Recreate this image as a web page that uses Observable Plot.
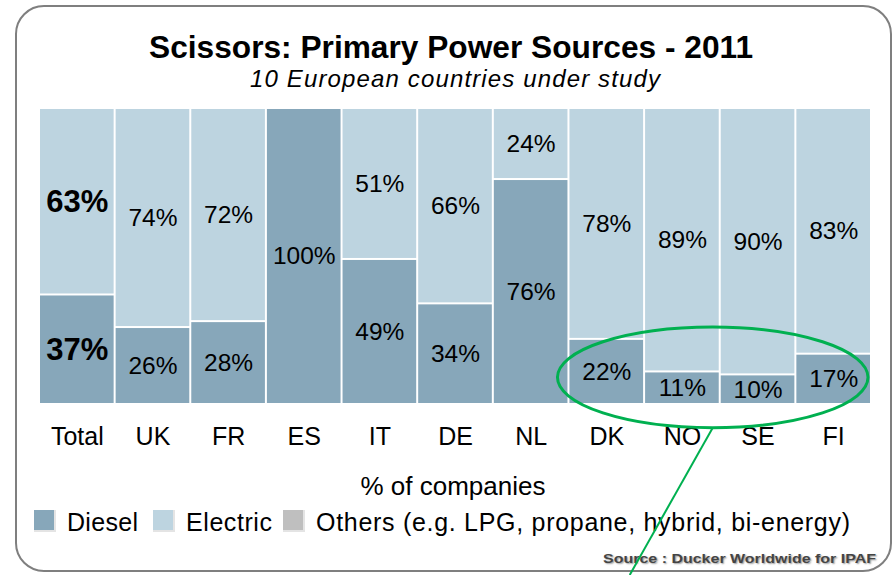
<!DOCTYPE html>
<html>
<head>
<meta charset="utf-8">
<script src="https://cdn.jsdelivr.net/npm/d3@7"></script>
<script src="https://cdn.jsdelivr.net/npm/@observablehq/plot@0.6"></script>
<style>
  html, body { margin: 0; padding: 0; background: white; }
  #chart { width: 894px; height: 575px; overflow: hidden; }
</style>
</head>
<body>
<div id="chart"></div>
<script>
// ---- data ----
const categories = ["Total", "UK", "FR", "ES", "IT", "DE", "NL", "DK", "NO", "SE", "FI"];
const diesel   = [37, 26, 28, 100, 49, 34, 76, 22, 11, 10, 17];
const electric = [63, 74, 72, 0, 51, 66, 24, 78, 89, 90, 83];
const others   = [0, 0, 0, 0, 0, 0, 0, 0, 0, 0, 0];
const sources  = ["Diesel", "Electric", "Others (e.g. LPG, propane, hybrid, bi-energy)"];
const sourceColors = ["#87a7ba", "#bdd4e0", "#bfbfbf"];
const title = "Scissors: Primary Power Sources - 2011";
const subtitle = "10 European countries under study";
const xTitle = "% of companies";
const sourceNote = "Source : Ducker Worldwide for IPAF";
const annotation = { from: "DK", to: "FI", yCenter: 9, yRadius: 17 };

const series = [diesel, electric, others];
const table = categories.flatMap((c, i) =>
  sources.map((s, j) => ({ country: c, source: s, value: series[j][i] }))
);
const nonZero = table.filter(d => d.value > 0);
const labelRows = nonZero.filter(d => d.source !== sources[2]);

const font = "'Liberation Sans', Arial, sans-serif";

const plot = Plot.plot({
  width: 894,
  height: 575,
  marginTop: 108,
  marginBottom: 171,
  marginLeft: 39,
  marginRight: 23,
  style: { fontFamily: font, color: "black", background: "transparent", overflow: "visible" },
  x: { domain: categories, padding: 0, round: false, label: null },
  y: { domain: [0, 100], axis: null },
  color: { domain: sources, range: sourceColors },
  marks: [
    Plot.barY(nonZero, {
      x: "country", y: "value", fill: "source",
      insetLeft: 1, insetRight: 1, insetTop: 1, insetBottom: 1
    }),
    Plot.text(labelRows, Plot.stackY({
      x: "country", y: "value", z: "source",
      text: d => d.value + "%",
      filter: d => d.country !== "Total",
      fontSize: 24.5, fill: "black"
    })),
    Plot.text(labelRows, Plot.stackY({
      x: "country", y: "value", z: "source",
      text: d => d.value + "%",
      filter: d => d.country === "Total",
      fontSize: 31, fontWeight: "bold", fill: "black"
    })),
    Plot.axisX({ tickSize: 0, tickPadding: 23, fontSize: 25, label: null })
  ]
});

document.getElementById("chart").appendChild(plot);

const svg = d3.select(plot);
const sx = plot.scale("x");
const sy = plot.scale("y");
const sc = plot.scale("color");

// rounded frame
svg.insert("rect", ":first-child")
  .attr("x", 16).attr("y", 6).attr("width", 875).attr("height", 565).attr("rx", 28)
  .attr("fill", "white").attr("stroke", "#7f7f7f").attr("stroke-width", 2);

// title & subtitle
svg.append("text").attr("x", 451).attr("y", 58).attr("text-anchor", "middle")
  .attr("font-size", 31).attr("font-weight", "bold").attr("fill", "black")
  .attr("textLength", 604).attr("lengthAdjust", "spacingAndGlyphs").text(title);
svg.append("text").attr("x", 455).attr("y", 87).attr("text-anchor", "middle")
  .attr("font-size", 24).attr("font-style", "italic").attr("fill", "black")
  .attr("textLength", 410).attr("lengthAdjust", "spacing").text(subtitle);

// x title
svg.append("text").attr("x", 453).attr("y", 495).attr("text-anchor", "middle")
  .attr("font-size", 26).attr("fill", "black").text(xTitle);

// legend
const legendX = [34, 153, 283];
const legendTextWidth = [71, 86, 534];
sc.domain.forEach((name, i) => {
  const g = svg.append("g").attr("transform", `translate(${legendX[i]},510)`);
  g.append("rect").attr("width", 22).attr("height", 22).attr("fill", "#e4e4e4");
  g.append("rect").attr("width", 20).attr("height", 20).attr("fill", sc.range[i]);
  g.append("text").attr("x", 33).attr("y", 21).attr("font-size", 25)
    .attr("text-anchor", "start")
    .attr("textLength", legendTextWidth[i]).attr("lengthAdjust", "spacing")
    .attr("fill", "black").text(name);
});

// source note
svg.append("text").attr("x", 876).attr("y", 563).attr("text-anchor", "end")
  .attr("font-size", 13).attr("font-weight", "bold").attr("fill", "#444")
  .attr("textLength", 273).attr("lengthAdjust", "spacingAndGlyphs")
  .style("text-shadow", "1px 1px 1.5px #999").text(sourceNote);

// green ellipse annotation
const eLeft = sx.apply(annotation.from) - 11;
const eRight = sx.apply(annotation.to) + sx.bandwidth - 3;
const cx = (eLeft + eRight) / 2;
const cy = sy.apply(annotation.yCenter);
const ry = sy.apply(0) - sy.apply(annotation.yRadius);
svg.append("ellipse").attr("cx", cx).attr("cy", cy).attr("rx", (eRight - eLeft) / 2).attr("ry", ry)
  .attr("fill", "none").attr("stroke", "#00b050").attr("stroke-width", 3);
svg.append("line").attr("x1", cx).attr("y1", cy + ry).attr("x2", cx - 83).attr("y2", 575)
  .attr("stroke", "#00b050").attr("stroke-width", 2);
</script>
</body>
</html>
